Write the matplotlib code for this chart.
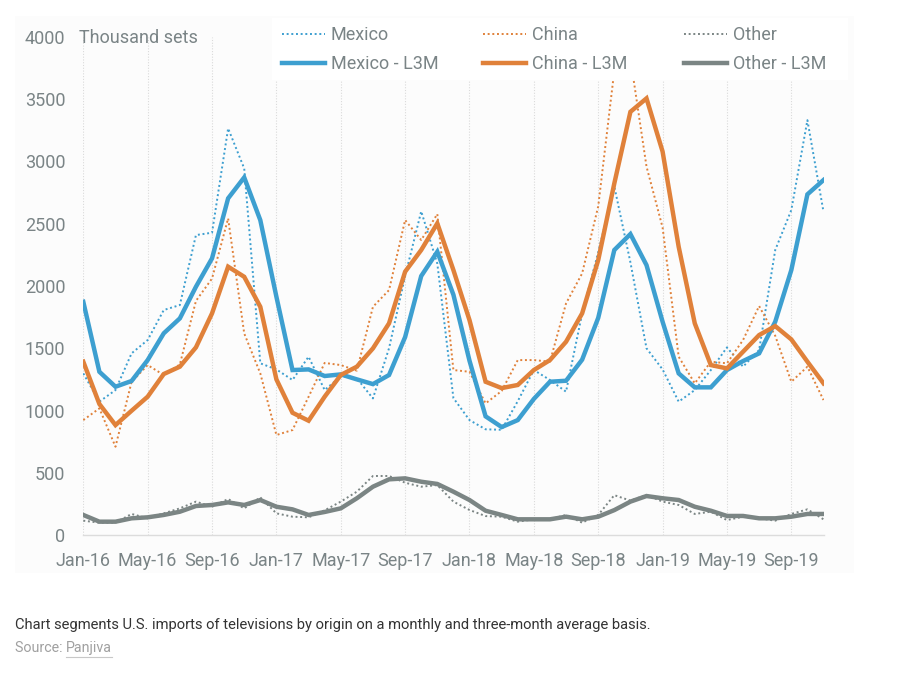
import matplotlib
matplotlib.use("Agg")
import matplotlib.pyplot as plt
from matplotlib.patches import Rectangle
from matplotlib.lines import Line2D

months = ["Jan-16", "Feb-16", "Mar-16", "Apr-16", "May-16", "Jun-16", "Jul-16", "Aug-16", "Sep-16", "Oct-16", "Nov-16", "Dec-16",
          "Jan-17", "Feb-17", "Mar-17", "Apr-17", "May-17", "Jun-17", "Jul-17", "Aug-17", "Sep-17", "Oct-17", "Nov-17", "Dec-17",
          "Jan-18", "Feb-18", "Mar-18", "Apr-18", "May-18", "Jun-18", "Jul-18", "Aug-18", "Sep-18", "Oct-18", "Nov-18", "Dec-18",
          "Jan-19", "Feb-19", "Mar-19", "Apr-19", "May-19", "Jun-19", "Jul-19", "Aug-19", "Sep-19", "Oct-19", "Nov-19"]

mexico = [1298, 1071, 1164, 1459, 1566, 1807, 1847, 2409, 2428, 3266, 2944, 1379,
          1330, 1245, 1432, 1164, 1275, 1258, 1097, 1500, 2080, 2600, 2180, 1100,
          923, 849, 845, 1075, 1325, 1245, 1151, 1780, 2270, 2800, 2190, 1500,
          1330, 1071, 1164, 1325, 1507, 1352, 1486, 2289, 2610, 3332, 2596]
china = [923, 1017, 709, 1230, 1365, 1285, 1370, 1880, 2060, 2543, 1619, 1298,
         803, 843, 1110, 1382, 1365, 1320, 1833, 1967, 2530, 2369, 2578, 1325,
         1311, 1057, 1157, 1405, 1405, 1392, 1860, 2101, 2640, 3730, 3830, 2960,
         2470, 1432, 1218, 1392, 1379, 1566, 1839, 1600, 1231, 1352, 1084]
other = [115, 99, 99, 169, 134, 174, 214, 268, 227, 289, 214, 302,
         174, 147, 142, 198, 268, 348, 474, 474, 420, 388, 401, 268,
         201, 152, 147, 107, 126, 126, 161, 99, 161, 320, 276, 321,
         268, 241, 169, 187, 120, 147, 134, 115, 169, 206, 126]

mexico_l3m = [1873, 1311, 1191, 1237, 1405, 1620, 1740, 1994, 2222, 2704, 2872, 2529,
              1914, 1325, 1330, 1277, 1290, 1250, 1212, 1285, 1590, 2080, 2275, 1930,
              1400, 953, 867, 923, 1093, 1231, 1239, 1408, 1744, 2289, 2417, 2168,
              1713, 1298, 1186, 1186, 1325, 1397, 1459, 1713, 2128, 2736, 2851]
china_l3m = [1392, 1052, 883, 998, 1111, 1293, 1352, 1507, 1780, 2155, 2074, 1833,
             1250, 982, 918, 1111, 1285, 1352, 1499, 1700, 2115, 2289, 2503, 2128,
             1726, 1231, 1180, 1205, 1325, 1405, 1552, 1780, 2208, 2824, 3399, 3507,
             3080, 2315, 1700, 1365, 1338, 1472, 1606, 1678, 1571, 1392, 1218]
other_l3m = [161, 107, 107, 134, 142, 161, 187, 233, 241, 262, 241, 281,
             227, 206, 161, 185, 214, 295, 388, 447, 455, 428, 410, 348,
             281, 195, 161, 126, 126, 126, 147, 126, 147, 200, 268, 313,
             295, 281, 227, 195, 153, 153, 134, 134, 147, 169, 169]

tick_labels = ["Jan-16", "May-16", "Sep-16", "Jan-17", "May-17", "Sep-17",
               "Jan-18", "May-18", "Sep-18", "Jan-19", "May-19", "Sep-19"]
y_ticks = [0, 500, 1000, 1500, 2000, 2500, 3000, 3500, 4000]

BLUE = "#3d9fd0"
ORANGE = "#e0813a"
GRAY = "#7b8584"
TXT = "#7a8486"
FONT = ["Roboto", "DejaVu Sans"]
FS = 13

plt.rcParams["font.family"] = FONT

W, H = 917, 674
fig = plt.figure(figsize=(W / 100, H / 100), dpi=100)
fig.patch.set_facecolor("white")

def fx(px):
    return px / W

def fy(py):
    return 1 - py / H

# faint background panel
fig.patches.append(Rectangle((fx(15), fy(573)), fx(854) - fx(15), fy(16) - fy(573),
                             transform=fig.transFigure, facecolor="#fcfcfc",
                             edgecolor="none", zorder=-10))

left, right, top, bottom = 83.3, 823.5, 37, 535
ax = fig.add_axes([fx(left), fy(bottom), fx(right) - fx(left), fy(top) - fy(bottom)])
ax.set_facecolor("none")

x = list(range(len(months)))
dot = (0, (1, 1.4))
ax.plot(x, mexico, color=BLUE, lw=1.4, ls=dot, zorder=3)
ax.plot(x, china, color=ORANGE, lw=1.4, ls=dot, zorder=3)
ax.plot(x, other, color=GRAY, lw=1.4, ls=dot, zorder=3)
ax.plot(x, mexico_l3m, color=BLUE, lw=3.2, solid_joinstyle="miter", zorder=4)
ax.plot(x, china_l3m, color=ORANGE, lw=3.2, solid_joinstyle="miter", zorder=4)
ax.plot(x, other_l3m, color=GRAY, lw=3.2, solid_joinstyle="miter", zorder=4)

ax.set_xlim(0, len(months) - 1)
ax.set_ylim(0, 4000)
xt = list(range(0, len(months), 4))
ax.set_xticks(xt)
ax.set_xticklabels(tick_labels)
ax.set_yticks(y_ticks)
ax.set_yticklabels([str(v) for v in y_ticks])
ax.tick_params(axis="both", length=0, labelsize=FS, labelcolor=TXT)
ax.tick_params(axis="x", pad=12)
ax.tick_params(axis="y", pad=13)

for s in ["left", "right", "top"]:
    ax.spines[s].set_visible(False)
ax.spines["bottom"].set_color("#dcdcdc")
ax.spines["bottom"].set_linewidth(1.0)

ax.grid(axis="x", color="#dadada", lw=0.8, ls=(0, (1, 1.5)), zorder=0)
ax.grid(axis="y", visible=False)

fig.text(fx(79), fy(38), "Thousand sets", fontsize=FS, color=TXT,
         ha="left", va="center")

# white legend panel
fig.patches.append(Rectangle((fx(272), fy(80)), fx(848) - fx(272), fy(18) - fy(80),
                             transform=fig.transFigure, facecolor="white",
                             edgecolor="none", zorder=2))

legend_cols = [
    (282, [("Mexico", BLUE, 1.4, dot), ("Mexico - L3M", BLUE, 3.2, "-")]),
    (483, [("China", ORANGE, 1.4, dot), ("China - L3M", ORANGE, 3.2, "-")]),
    (684, [("Other", GRAY, 1.4, dot), ("Other - L3M", GRAY, 3.2, "-")]),
]
for xpx, entries in legend_cols:
    handles = [Line2D([], [], color=c, lw=lw, ls=ls) for _, c, lw, ls in entries]
    labels = [e[0] for e in entries]
    leg = fig.legend(handles, labels, loc="upper left", bbox_to_anchor=(fx(xpx), fy(26)),
                     bbox_transform=fig.transFigure, frameon=False, borderpad=0,
                     borderaxespad=0, handlelength=2.4, handletextpad=0.3,
                     labelspacing=0.62, fontsize=FS, labelcolor=TXT)
    leg.set_zorder(5)

fig.text(fx(15), fy(625),
         "Chart segments U.S. imports of televisions by origin on a monthly and three-month average basis.",
         fontsize=10.6, color="#333333", ha="left", va="center")
src = fig.text(fx(15), fy(648), "Source: ", fontsize=10.3, color="#a0a0a0", ha="left", va="center")
fig.canvas.draw()
r = fig.canvas.get_renderer()
bb = src.get_window_extent(r)
pj = fig.text(bb.x1 / W, fy(648), "Panjiva", fontsize=10.3, color="#a0a0a0", ha="left", va="center")
fig.canvas.draw()
bb2 = pj.get_window_extent(r)
fig.add_artist(Line2D([bb2.x0 / W, bb2.x1 / W], [fy(657), fy(657)], transform=fig.transFigure,
                      color="#c8c8c8", lw=0.8))

fig.savefig("out.png", dpi=100, facecolor="white")
